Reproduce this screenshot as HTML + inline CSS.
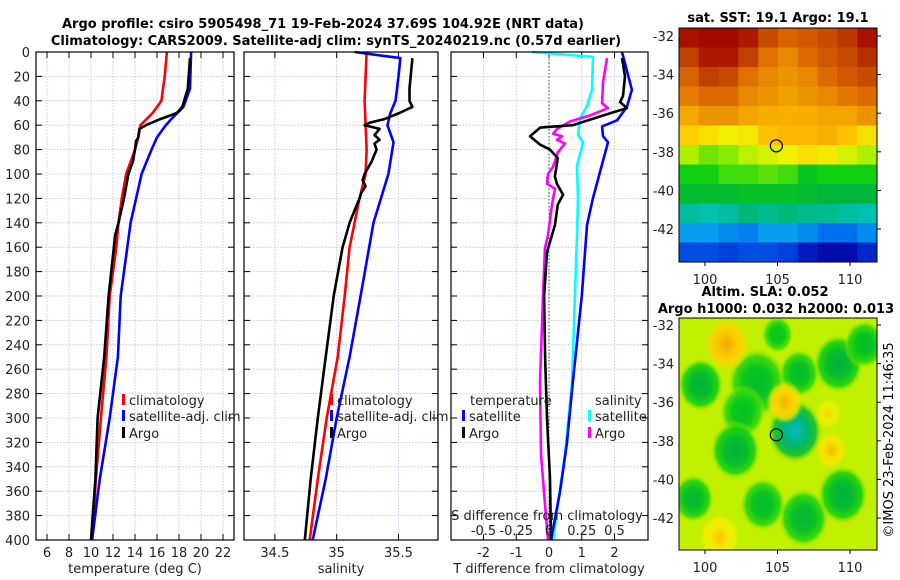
<!DOCTYPE html>
<html><head><meta charset="utf-8">
<style>
html,body{margin:0;padding:0;background:#fff;}
svg{display:block;font-family:"DejaVu Sans","Liberation Sans",sans-serif;}
</style></head>
<body>
<svg id="chart" width="900" height="580" viewBox="0 0 900 580" xmlns="http://www.w3.org/2000/svg">
<text x="323" y="28" text-anchor="middle" font-size="13" font-weight="bold">Argo profile: csiro 5905498_71 19-Feb-2024 37.69S 104.92E (NRT data)</text>
<text x="336" y="45" text-anchor="middle" font-size="13" font-weight="bold">Climatology: CARS2009. Satellite-adj clim: synTS_20240219.nc (0.57d earlier)</text>
<text x="778" y="22" text-anchor="middle" font-size="13" font-weight="bold">sat. SST: 19.1 Argo: 19.1</text>
<text x="765" y="296" text-anchor="middle" font-size="13" font-weight="bold">Altim. SLA: 0.052</text>
<text x="776" y="313" text-anchor="middle" font-size="13" font-weight="bold">Argo h1000: 0.032 h2000: 0.013</text>
<text transform="translate(893,440) rotate(-90)" text-anchor="middle" font-size="13">©IMOS 23-Feb-2024 11:46:35</text>
<g id="g"></g>
</svg>
<script>
// ---- Data ----
const climDepth = [0,20,40,50,60,70,80,100,120,140,160,200,250,300,350,400];
const climTemp  = [16.9,16.7,16.4,15.6,14.5,14.3,14.0,13.2,12.8,12.5,12.3,11.7,11.4,10.9,10.45,10.1];
const satDepth  = [0,30,45,55,60,70,80,100,120,140,160,200,250,300,350,400];
const satTemp   = [19.1,19.0,18.4,17.3,16.8,16.0,15.5,14.6,14.1,13.6,13.3,12.7,12.45,11.7,10.8,10.1];
const argoDepth = [5,30,45,50,55,60,63,70,73,80,90,100,110,120,140,150,200,250,300,350,400];
const argoTemp  = [19.0,18.8,18.3,17.8,16.3,15.0,14.4,14.3,14.1,14.0,13.8,13.4,13.2,13.0,12.5,12.2,11.6,11.2,10.6,10.4,10.0];

const climSDepth = [0,40,80,100,120,140,160,200,250,300,350,400];
const climSal    = [35.242,35.226,35.242,35.234,35.185,35.145,35.105,35.065,35.008,34.919,34.847,34.782];
const satSDepth  = [0,5,20,40,50,60,74,100,140,200,250,300,350,400];
const satSal     = [35.145,35.516,35.5,35.476,35.435,35.411,35.46,35.419,35.298,35.194,35.105,35.0,34.911,34.806];
const argoSDepth = [5,30,40,45,50,55,58,60,63,68,72,75,80,90,100,105,110,115,120,140,160,200,250,300,350,400];
const argoSal    = [35.613,35.589,35.589,35.613,35.508,35.387,35.266,35.226,35.347,35.306,35.347,35.306,35.323,35.282,35.226,35.21,35.234,35.202,35.185,35.105,35.048,34.976,34.911,34.847,34.79,34.742];

const dTSatDepth = [0,31,45,56,61,69,74,98,120,142,200,270,320,360,400];
const dTSat      = [2.23,2.53,2.38,2.08,1.62,1.65,1.8,1.56,1.34,1.16,1.0,0.73,0.55,0.34,0.06];
const dTArgoDepth= [5,20,36,41,46,51,60,62,69,76,80,87,102,108,117,125,142,164,200,250,300,350,400];
const dTArgo     = [2.23,2.32,2.26,2.17,2.38,1.77,0.73,-0.27,-0.58,-0.27,0.03,0.27,0.18,0.24,0.43,0.27,0.18,-0.06,-0.15,-0.12,-0.06,0.03,0.06];
const dSSatDepth = [0,4,31,44,55,68,74,93,120,150,200,270,330,370,400];
const dSSat      = [-0.13,0.336,0.328,0.29,0.237,0.221,0.26,0.214,0.221,0.214,0.198,0.176,0.122,0.069,0.031];
const dSArgoDepth= [5,25,42,46,52,57,63,67,69,72,75,82,94,100,108,112,125,150,161,200,270,330,370,400];
const dSArgo     = [0.443,0.412,0.405,0.45,0.313,0.16,0.061,0.031,0.099,0.061,0.122,0.069,0.031,-0.008,-0.015,0.046,0.023,-0.008,-0.031,-0.046,-0.069,-0.061,-0.031,-0.008];

const depthTicks = [0,20,40,60,80,100,120,140,160,180,200,220,240,260,280,300,320,340,360,380,400];
const tempTicks = [6,8,10,12,14,16,18,20,22];
const salTicks = [34.5,35,35.5];
const dTTicks = [-2,-1,0,1,2];
const dSTicks = [-0.5,-0.25,0,0.25,0.5];

// SST map grid (colormap fraction), rows top(north)->bottom
const sstGrid = [
 [.98,.99,.99,.97,.9,.86,.88,.9,.93,.98],
 [.92,.97,.97,.92,.84,.8,.85,.88,.9,.94],
 [.86,.92,.9,.84,.8,.78,.8,.85,.88,.9],
 [.82,.85,.85,.8,.78,.76,.78,.8,.83,.85],
 [.74,.78,.78,.75,.73,.72,.73,.75,.75,.78],
 [.66,.64,.62,.63,.68,.7,.7,.72,.68,.64],
 [.57,.54,.55,.58,.6,.62,.64,.63,.6,.57],
 [.5,.5,.52,.52,.53,.52,.48,.5,.5,.5],
 [.46,.46,.46,.47,.47,.47,.46,.45,.45,.45],
 [.39,.38,.39,.41,.4,.41,.4,.4,.39,.38],
 [.3,.3,.28,.27,.3,.3,.28,.25,.25,.28],
 [.2,.2,.18,.2,.2,.18,.12,.08,.08,.14]
];
// SLA blobs: lon, lat, radius(deg), colormap fraction
const slaLon = [99.7,103.6,102.6,106.5,109.2,102.1,106.2,99.2,104,106.8,109.5,105,111,101.5,105.5,108.7,101,108.5];
const slaLat = [-35.1,-35,-36.5,-34.5,-34,-38.5,-37.5,-41,-41.3,-42,-40.8,-32.5,-33,-33,-36,-38.5,-43,-36.6];
const slaRad = [1,1.3,1,0.9,1.1,1.1,1.2,0.9,1,1.1,1.1,0.7,0.9,1,0.8,0.7,0.9,0.6];
const slaVal = [.44,.46,.47,.46,.44,.44,.36,.45,.46,.45,.44,.48,.46,.74,.72,.7,.68,.66];

// ---- helpers ----
const NS='http://www.w3.org/2000/svg';
const G=document.getElementById('g');
function mk(tag,attrs,parent){const e=document.createElementNS(NS,tag);for(const k in attrs)e.setAttribute(k,attrs[k]);(parent||G).appendChild(e);return e;}
const cmStops=[[0,[0,0,128]],[0.1,[0,16,180]],[0.18,[0,64,220]],[0.26,[0,120,240]],[0.32,[16,176,240]],[0.38,[0,192,176]],[0.44,[0,176,64]],[0.5,[16,208,16]],[0.56,[160,240,0]],[0.62,[240,240,0]],[0.68,[255,192,0]],[0.76,[240,160,0]],[0.84,[224,112,0]],[0.92,[192,64,0]],[1,[160,0,0]]];
function jet(v){
  v=Math.max(0,Math.min(1,v));
  for(let i=1;i<cmStops.length;i++){
    if(v<=cmStops[i][0]){
      const a=cmStops[i-1],b=cmStops[i],t=(v-a[0])/(b[0]-a[0]);
      return 'rgb('+a[1].map((c,k)=>Math.round(c+(b[1][k]-c)*t)).join(',')+')';
    }
  }
  return 'rgb(160,0,0)';
}
const TOP=52,BOT=540;
const yD=d=>TOP+d*(BOT-TOP)/400;

const panels=[
 {name:'temperature-panel',x0:36,x1:234,min:5,max:23},
 {name:'salinity-panel',x0:244,x1:438,min:34.25,max:35.82},
 {name:'difference-panel',x0:451,x1:648,min:-3,max:3}
];
const xT=v=>panels[0].x0+(v-5)*(panels[0].x1-panels[0].x0)/18;
const xS=v=>panels[1].x0+(v-34.25)*(panels[1].x1-panels[1].x0)/(35.82-34.25);
const xdT=v=>549+v*32.75;
const xdS=v=>549+v*131;

function grid(xs, p){
  const gg=mk('g',{});
  
  
  xs.forEach(x=>mk('line',{x1:x,x2:x,y1:TOP,y2:BOT,stroke:'#b8bfe0','stroke-width':0.8,'stroke-dasharray':'1.5,1.5'},gg));
  depthTicks.forEach(d=>{ if(d>0&&d<400) mk('line',{x1:p.x0,x2:p.x1,y1:yD(d),y2:yD(d),stroke:'#b8bfe0','stroke-width':0.8,'stroke-dasharray':'1.5,1.5'},gg);});
  depthTicks.forEach(d=>{mk('line',{x1:p.x0,x2:p.x0+6,y1:yD(d),y2:yD(d),stroke:'#000'},gg);mk('line',{x1:p.x1,x2:p.x1-6,y1:yD(d),y2:yD(d),stroke:'#000'},gg);});
  xs.forEach(x=>{mk('line',{x1:x,x2:x,y1:BOT,y2:BOT-6,stroke:'#000'},gg);mk('line',{x1:x,x2:x,y1:TOP,y2:TOP+6,stroke:'#000'},gg);});
}
function frame(p){
  const r=mk('rect',{x:p.x0,y:TOP,width:p.x1-p.x0,height:BOT-TOP,fill:'none',stroke:'#000','stroke-width':1.2});
  
  
}
function line(depths,vals,fx,color,name,w){
  const pts=depths.map((d,i)=>fx(vals[i]).toFixed(1)+','+yD(d).toFixed(1)).join(' ');
  const e=mk('polyline',{points:pts,fill:'none',stroke:color,'stroke-width':w||2.6,'stroke-linejoin':'round'});
  
  
}
function txt(x,y,s,opts,name){
  const e=mk('text',Object.assign({x:x,y:y,'font-size':13,fill:'#222'},opts||{}));
  e.textContent=s;
  
  
  return e;
}
function legend(x,y,color,label,name){
  const r=mk('rect',{x:x,y:y-11,width:3,height:11,fill:color});
  
  
  txt(x+7,y,label,{},name);
}

// Panel 1
grid(tempTicks.map(xT),panels[0]);
line(climDepth,climTemp,xT,'#ff0000','temp-climatology-line');
line(satDepth,satTemp,xT,'#0000ff','temp-satellite-line');
line(argoDepth,argoTemp,xT,'#000000','temp-argo-line');
frame(panels[0]);
depthTicks.forEach(d=>txt(30,yD(d)+5,String(d),{'text-anchor':'end'},'depth-tick-label'));
tempTicks.forEach(t=>txt(xT(t),557,String(t),{'text-anchor':'middle'},'temp-tick-label'));
txt(135,573,'temperature (deg C)',{'text-anchor':'middle'},'temp-axis-title');
legend(122,405,'#ff0000','climatology','legend-climatology');
legend(122,421,'#0000ff','satellite-adj. clim','legend-satellite-adj');
legend(122,438,'#000000','Argo','legend-argo');

// Panel 2
grid(salTicks.map(xS),panels[1]);
line(climSDepth,climSal,xS,'#ff0000','sal-climatology-line');
line(satSDepth,satSal,xS,'#0000ff','sal-satellite-line');
line(argoSDepth,argoSal,xS,'#000000','sal-argo-line');
frame(panels[1]);
salTicks.forEach(t=>txt(xS(t),557,String(t),{'text-anchor':'middle'},'sal-tick-label'));
txt(341,573,'salinity',{'text-anchor':'middle'},'sal-axis-title');
legend(330,405,'#ff0000','climatology','legend-sal-climatology');
legend(330,421,'#0000ff','satellite-adj. clim','legend-sal-satellite-adj');
legend(330,438,'#000000','Argo','legend-sal-argo');

// Panel 3
grid(dTTicks.map(xdT),panels[2]);
const zl=mk('line',{x1:549,x2:549,y1:TOP,y2:BOT,stroke:'#2a5a2a','stroke-width':1,'stroke-dasharray':'1.5,2'});


line(dSSatDepth,dSSat,xdS,'#00ffff','ds-satellite-line');
line(dTSatDepth,dTSat,xdT,'#0000ff','dt-satellite-line');
line(dSArgoDepth,dSArgo,xdS,'#ff00ff','ds-argo-line');
line(dTArgoDepth,dTArgo,xdT,'#000000','dt-argo-line');
frame(panels[2]);
dTTicks.forEach(t=>txt(xdT(t),557,String(t),{'text-anchor':'middle'},'dt-tick-label'));
txt(549,573,'T difference from climatology',{'text-anchor':'middle'},'dt-axis-title');
txt(547,520,'S difference from climatology',{'text-anchor':'middle'},'ds-axis-title');
dSTicks.forEach(t=>txt(xdS(t),535,String(t),{'text-anchor':'middle'},'ds-tick-label'));
txt(470,405,'temperature',{},'legend-temperature-header');
legend(462,421,'#0000ff','satellite','legend-dt-satellite');
legend(462,438,'#000000','Argo','legend-dt-argo');
txt(595,405,'salinity',{},'legend-salinity-header');
legend(588,421,'#00ffff','satellite','legend-ds-satellite');
legend(588,438,'#ff00ff','Argo','legend-ds-argo');

// Maps
const MX0=679,MX1=877;
const lonX=l=>705+(l-100)*14.5;
function mapAxes(y0,y1,latRef,name){
  const fr=mk('rect',{x:MX0,y:y0,width:MX1-MX0,height:y1-y0,fill:'none',stroke:'#000','stroke-width':1});
  
  
  [-32,-34,-36,-38,-40,-42].forEach(lat=>{
    const y=latRef+(-32-lat)*19.3;
    mk('line',{x1:MX1,x2:MX1+4,y1:y,y2:y,stroke:'#000'});
    txt(MX0-5,y+5,String(lat),{'text-anchor':'end'},name+'-lat-label');
  });
  [100,105,110].forEach(l=>{
    mk('line',{x1:lonX(l),x2:lonX(l),y1:y1,y2:y1+4,stroke:'#000'});
    txt(lonX(l),y1+22,String(l),{'text-anchor':'middle'},name+'-lon-label');
  });
}
// SST map
const sg=mk('g',{});


const SY0=28,SY1=262;
const rh=(SY1-SY0)/sstGrid.length, cw=(MX1-MX0)/sstGrid[0].length;
sstGrid.forEach((row,i)=>row.forEach((v,j)=>{
  const c=mk('rect',{x:MX0+j*cw,y:SY0+i*rh,width:cw+0.5,height:rh+0.5,fill:jet(v)},sg);
  
  
}));
mapAxes(SY0,SY1,36,'sst-map');
const c1=mk('circle',{cx:lonX(104.92),cy:36+5.69*19.3,r:6,fill:'none',stroke:'#000','stroke-width':1.2});



// SLA map
const LY0=318,LY1=550;
const defs=mk('defs',{});
const clip=mk('clipPath',{id:'slaclip'},defs);
mk('rect',{x:MX0,y:LY0,width:MX1-MX0,height:LY1-LY0},clip);
const lg=mk('g',{'clip-path':'url(#slaclip)'});


mk('rect',{x:MX0,y:LY0,width:MX1-MX0,height:LY1-LY0,fill:jet(0.585)},lg);
slaLon.forEach((l,i)=>{
  const id='sg'+i;
  const rg=mk('radialGradient',{id:id},defs);
  mk('stop',{offset:'0','stop-color':jet(slaVal[i])},rg);
  mk('stop',{offset:'0.45','stop-color':jet((slaVal[i]*2+0.52)/3)},rg);
  mk('stop',{offset:'0.75','stop-color':jet((slaVal[i]+0.56)/2),'stop-opacity':'0.85'},rg);
  mk('stop',{offset:'1','stop-color':jet(0.585),'stop-opacity':'0'},rg);
  const b=mk('ellipse',{cx:lonX(l),cy:325+(-32-slaLat[i])*19.3,rx:slaRad[i]*14.5*1.6,ry:slaRad[i]*19.3*1.4,fill:'url(#'+id+')'},lg);
  
  
});
mapAxes(LY0,LY1,325,'sla-map');
const c2=mk('circle',{cx:lonX(104.92),cy:325+5.69*19.3,r:6,fill:'none',stroke:'#000','stroke-width':1.2});


</script>
</body></html>
